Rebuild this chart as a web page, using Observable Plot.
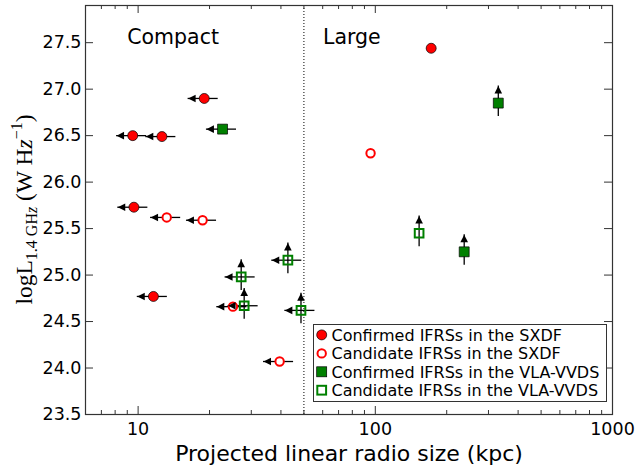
<!DOCTYPE html>
<html><head><meta charset="utf-8">
<script src="https://cdn.jsdelivr.net/npm/d3@7"></script>
<script src="https://cdn.jsdelivr.net/npm/@observablehq/plot@0.6"></script>
<style>body{margin:0;background:#fff;} #chart{width:637px;height:472px;}</style>
</head><body><div id="chart"></div>
<script>
// Confirmed IFRSs in the SXDF
const sxdfConfSize = [19.0, 9.49, 12.6, 9.6, 11.6, 172];
const sxdfConfLum  = [26.90, 26.50, 26.49, 25.73, 24.77, 27.44];
const sxdfConfSizeLimit = [true, true, true, true, true, false];
// Candidate IFRSs in the SXDF
const sxdfCandSize = [13.2, 18.7, 25.1, 39.5, 95.5];
const sxdfCandLum  = [25.62, 25.59, 24.66, 24.07, 26.31];
const sxdfCandSizeLimit = [true, true, true, true, false];
// Confirmed IFRSs in the VLA-VVDS
const vvdsConfSize = [22.7, 330, 237];
const vvdsConfLum  = [26.57, 26.85, 25.25];
const vvdsConfSizeLimit = [true, false, false];
const vvdsConfLumLimit  = [false, true, true];
// Candidate IFRSs in the VLA-VVDS
const vvdsCandSize = [153, 42.8, 27.2, 28.0, 48.6];
const vvdsCandLum  = [25.45, 25.16, 24.98, 24.67, 24.62];
const vvdsCandSizeLimit = [false, true, true, true, true];
const vvdsCandLumLimit  = [true, true, true, true, true];

const xTicks = [10, 100, 1000];
const xMinor = [7, 8, 9, 20, 30, 40, 50, 60, 70, 80, 90, 200, 300, 400, 500, 600, 700, 800, 900];
const yTicks = [23.5, 24.0, 24.5, 25.0, 25.5, 26.0, 26.5, 27.0, 27.5];
const sizeBoundary = 50;
const regionLabels = [{x: 9.0, y: 27.56, t: "Compact"}, {x: 60.2, y: 27.56, t: "Large"}];
const legendLabels = ["Confirmed IFRSs in the SXDF", "Candidate IFRSs in the SXDF",
  "Confirmed IFRSs in the VLA-VVDS", "Candidate IFRSs in the VLA-VVDS"];

function build(sizes, lums, xl, yl) {
  return sizes.map((s, i) => ({x: s, y: lums[i], xlim: xl ? xl[i] : false, ylim: yl ? yl[i] : false}));
}
const sc = build(sxdfConfSize, sxdfConfLum, sxdfConfSizeLimit);
const sa = build(sxdfCandSize, sxdfCandLum, sxdfCandSizeLimit);
const vc = build(vvdsConfSize, vvdsConfLum, vvdsConfSizeLimit, vvdsConfLumLimit);
const va = build(vvdsCandSize, vvdsCandLum, vvdsCandSizeLimit, vvdsCandLumLimit);
const all = [...sc, ...sa, ...vc, ...va];
const hData = all.filter(d => d.xlim);
const vData = all.filter(d => d.ylim);
const XERR = 0.145, YLO = 0.145, YHI = 0.185;

const arrowLeft = {draw(ctx) { ctx.moveTo(0, 0); ctx.lineTo(7.5, -3.8); ctx.lineTo(7.5, 3.8); ctx.closePath(); }};
const arrowUp = {draw(ctx) { ctx.moveTo(0, 0); ctx.lineTo(-3.8, 7.5); ctx.lineTo(3.8, 7.5); ctx.closePath(); }};

const W = 637, H = 472, mL = 85, mR = 25, mT = 5, mB = 58;
const fw = W - mL - mR, fh = H - mT - mB;

const plot = Plot.plot({
  width: W, height: H,
  marginLeft: mL, marginRight: mR, marginTop: mT, marginBottom: mB,
  style: {fontFamily: "DejaVu Sans", fontSize: "17.5px", color: "black", background: "white"},
  x: {type: "log", domain: [6, 1000]},
  y: {domain: [23.5, 27.9]},
  marks: [
    Plot.ruleX([sizeBoundary], {x: d => d, stroke: "black", strokeWidth: 1, strokeDasharray: "1,2"}),
    // inward ticks
    Plot.tickX(xTicks, {x: d => d, insetTop: fh - 8, stroke: "#333"}),
    Plot.tickX(xTicks, {x: d => d, insetBottom: fh - 8, stroke: "#333"}),
    Plot.tickX(xMinor, {x: d => d, insetTop: fh - 4, stroke: "#333"}),
    Plot.tickX(xMinor, {x: d => d, insetBottom: fh - 4, stroke: "#333"}),
    Plot.tickY(yTicks, {y: d => d, insetRight: fw - 8, stroke: "#333"}),
    Plot.tickY(yTicks, {y: d => d, insetLeft: fw - 8, stroke: "#333"}),
    Plot.axisX(xTicks, {tickSize: 0, tickPadding: 8, tickFormat: d3.format("d"), fontSize: 17.5, label: null}),
    Plot.axisY(yTicks, {tickSize: 0, tickPadding: 4, tickFormat: d3.format(".1f"), fontSize: 17.5, label: null}),
    Plot.text(["Projected linear radio size (kpc)"], {text: d => d, frameAnchor: "bottom", dy: 46, fontSize: 22}),
    Plot.text(regionLabels, {x: "x", y: "y", text: "t", textAnchor: "start", fontSize: 20.5}),
    // error bars
    Plot.ruleY(hData, {y: "y", x1: d => d.x * (1 - XERR), x2: d => d.x * (1 + XERR), stroke: "black", strokeWidth: 1.3}),
    Plot.ruleX(vData, {x: "x", y1: d => d.y - YLO, y2: d => d.y + YHI, stroke: "black", strokeWidth: 1.3}),
    // markers
    Plot.dot(sc, {x: "x", y: "y", r: 5, fill: "red", stroke: "black", strokeWidth: 0.7}),
    Plot.dot(sa, {x: "x", y: "y", r: 4.2, fill: "white", stroke: "red", strokeWidth: 2}),
    Plot.dot(vc, {x: "x", y: "y", r: 5.6, symbol: "square", fill: "green", stroke: "black", strokeWidth: 0.7}),
    Plot.dot(va, {x: "x", y: "y", r: 4.9, symbol: "square", fill: "none", stroke: "green", strokeWidth: 2}),
    // limit arrows
    Plot.dot(hData, {x: d => d.x * (1 - XERR), y: "y", symbol: arrowLeft, fill: "black", stroke: "none"}),
    Plot.dot(vData, {x: "x", y: d => d.y + YHI, symbol: arrowUp, fill: "black", stroke: "none"}),
    Plot.frame({stroke: "#333", strokeWidth: 1.2})
  ]
});
document.getElementById("chart").appendChild(plot);

const svg = d3.select(plot);
// y-axis label with sub/superscripts
const yl = svg.append("text")
  .attr("transform", `translate(32,${mT + fh / 2}) rotate(-90)`)
  .attr("text-anchor", "middle")
  .attr("font-family", "Liberation Serif, DejaVu Serif, serif")
  .attr("font-size", 23.5)
  .attr("fill", "black");
yl.append("tspan").text("logL");
yl.append("tspan").attr("font-size", 16).attr("dy", 5).text("1.4 GH");
yl.append("tspan").attr("font-size", 16).attr("font-style", "italic").text("z");
yl.append("tspan").attr("dy", -5).text(" (W H");
yl.append("tspan").attr("font-style", "italic").text("z");
yl.append("tspan").attr("font-size", 16).attr("dy", -10).text("\u22121");
yl.append("tspan").attr("dy", 10).text(")");

// legend
const lg = svg.append("g").attr("text-anchor", "start");
lg.append("rect").attr("x", 313.5).attr("y", 324.5).attr("width", 293).attr("height", 77)
  .attr("fill", "white").attr("stroke", "#333").attr("stroke-width", 1);
const rows = [340.7, 359.2, 377.6, 396.0];
legendLabels.forEach((t, i) => {
  const cy = rows[i] - 5.8, cx = 321.7;
  if (i === 0) lg.append("circle").attr("cx", cx).attr("cy", cy).attr("r", 5).attr("fill", "red").attr("stroke", "black").attr("stroke-width", 0.7);
  if (i === 1) lg.append("circle").attr("cx", cx).attr("cy", cy).attr("r", 4.2).attr("fill", "white").attr("stroke", "red").attr("stroke-width", 2);
  if (i === 2) lg.append("rect").attr("x", cx - 5).attr("y", cy - 5).attr("width", 10).attr("height", 10).attr("fill", "green").attr("stroke", "black").attr("stroke-width", 0.7);
  if (i === 3) lg.append("rect").attr("x", cx - 4.4).attr("y", cy - 4.4).attr("width", 8.8).attr("height", 8.8).attr("fill", "none").attr("stroke", "green").attr("stroke-width", 2);
  lg.append("text").attr("x", 331.5).attr("y", rows[i]).attr("text-anchor", "start").attr("font-family", "DejaVu Sans").attr("font-size", 16).attr("fill", "black").text(t);
});
</script></body></html>
